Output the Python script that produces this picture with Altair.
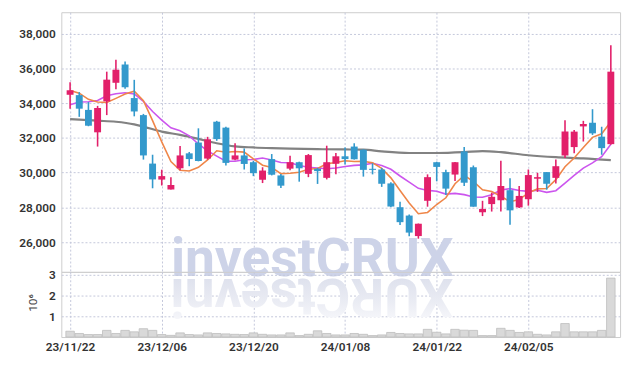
import altair as alt
import pandas as pd

# ---------------- data ----------------
dates = [
    "23/11/22", "23/11/23", "23/11/24", "23/11/27", "23/11/28", "23/11/29", "23/11/30", "23/12/01", "23/12/04", "23/12/05",
    "23/12/06", "23/12/07", "23/12/08", "23/12/11", "23/12/12", "23/12/13", "23/12/14", "23/12/15", "23/12/18", "23/12/19",
    "23/12/20", "23/12/21", "23/12/22", "23/12/26", "23/12/27", "23/12/28", "24/01/02", "24/01/03", "24/01/04", "24/01/05",
    "24/01/08", "24/01/09", "24/01/10", "24/01/11", "24/01/12", "24/01/15", "24/01/16", "24/01/17", "24/01/18", "24/01/19",
    "24/01/22", "24/01/23", "24/01/24", "24/01/25", "24/01/26", "24/01/29", "24/01/30", "24/01/31", "24/02/01", "24/02/02",
    "24/02/05", "24/02/06", "24/02/07", "24/02/08", "24/02/13", "24/02/14", "24/02/15", "24/02/16", "24/02/19", "24/02/20",
]
opens = [34480, 34460, 33610, 32320, 34100, 35170, 36220, 34290, 33310, 30520,
         29600, 29030, 30250, 31110, 31730, 30810, 32930, 32590, 30750, 30990,
         30600, 29590, 30780, 29840, 30230, 30600, 29930, 30220, 29700, 30510,
         30940, 31500, 31320, 30220, 30180, 29380, 28010, 27530, 26350, 28380,
         30600, 30030, 29890, 31220, 30310, 27720, 28190, 28410, 28990, 28000,
         28470, 29650, 30030, 29700, 30990, 31470, 32660, 32870, 32070, 31640]
highs = [35200, 34630, 34060, 33840, 35810, 36500, 36390, 35340, 33380, 31030,
         30170, 29740, 31530, 31190, 32550, 32060, 32980, 32640, 31690, 31390,
         30680, 30310, 31070, 29920, 30970, 30630, 31070, 30270, 31550, 31130,
         31450, 31690, 31340, 30540, 30270, 29440, 28320, 27590, 27070, 29900,
         30630, 30170, 30610, 31470, 30410, 28380, 28850, 30690, 29670, 29230,
         30180, 29990, 30030, 30750, 33020, 32450, 32980, 33650, 32640, 37330]
lows = [33670, 33210, 32670, 31500, 33310, 34800, 34820, 33240, 30750, 29100,
        29260, 29030, 30140, 30370, 30650, 30750, 31830, 30410, 30710, 30180,
        29800, 29400, 29840, 29120, 30140, 29480, 29740, 29350, 29610, 29900,
        30470, 30750, 29770, 29900, 29180, 28010, 26990, 26340, 26200, 28040,
        29500, 28720, 29520, 29230, 28040, 27500, 27760, 27760, 27000, 27970,
        28100, 28890, 29020, 29380, 30840, 31110, 31790, 32170, 31030, 31600]
closes = [34740, 33680, 32700, 33720, 35350, 35920, 34920, 33520, 30990, 29610,
          29800, 29290, 30990, 30780, 30670, 31920, 31930, 30560, 30990, 30500,
          29970, 30120, 29880, 29250, 30600, 30250, 31010, 30090, 30600, 30940,
          30780, 30770, 30160, 30160, 29360, 28050, 27150, 26550, 27060, 29740,
          30330, 29080, 30600, 29420, 28040, 27910, 28610, 29230, 27830, 28660,
          29860, 29740, 29360, 30370, 32360, 32360, 32800, 32260, 31410, 35810]
# volume in millions of shares (axis unit 10^6)
volumes = [0.28, 0.17, 0.12, 0.12, 0.32, 0.17, 0.32, 0.25, 0.40, 0.32,
           0.12, 0.08, 0.20, 0.12, 0.10, 0.20, 0.17, 0.15, 0.13, 0.12,
           0.20, 0.13, 0.10, 0.10, 0.20, 0.07, 0.13, 0.30, 0.17, 0.10,
           0.10, 0.17, 0.13, 0.07, 0.10, 0.22, 0.17, 0.15, 0.15, 0.37,
           0.23, 0.15, 0.37, 0.33, 0.32, 0.07, 0.07, 0.42, 0.32, 0.22,
           0.25, 0.13, 0.10, 0.25, 0.65, 0.25, 0.25, 0.25, 0.32, 2.84]
ma5 = [34730, 34570, 34220, 34060, 34038, 34274, 34522, 34686, 34140, 32992,
       31768, 30642, 30136, 30094, 30306, 30730, 31258, 31172, 31214, 31180,
       30790, 30428, 30292, 29944, 29964, 30020, 30198, 30240, 30510, 30578,
       30684, 30636, 30650, 30562, 30246, 29700, 28976, 28254, 27634, 27710,
       28166, 28552, 29362, 29834, 29494, 29010, 28916, 28642, 28324, 28448,
       28838, 29064, 29090, 29598, 30338, 30838, 31450, 32030, 32238, 32928]
ma10 = [33900, 34060, 34080, 34150, 34420, 34540, 34600, 34530, 34100, 33515,
        33021, 32582, 32411, 32117, 31649, 31249, 30950, 30654, 30654, 30743,
        30760, 30843, 30732, 30579, 30572, 30405, 30313, 30266, 30227, 30271,
        30352, 30417, 30445, 30536, 30412, 30192, 29806, 29452, 29098, 28978,
        28933, 28764, 28808, 28734, 28602, 28588, 28734, 29002, 29079, 28971,
        28924, 28990, 28866, 28961, 29393, 29838, 30257, 30560, 30918, 31633]
ma60_idx = [0, 3, 5, 7, 8, 10, 12, 14, 16, 18, 20, 22, 24, 27, 30, 32, 34, 37,
            40, 43, 45, 47, 50, 53, 56, 59]
ma60 = [33080, 32990, 32930, 32780, 32650, 32360, 32170, 31940, 31690, 31510,
        31450, 31410, 31380, 31350, 31335, 31320, 31220, 31130, 31130, 31180,
        31240, 31180, 31000, 30890, 30820, 30720]
tick_idx = [0, 10, 20, 30, 40, 50]
price_ticks = [26000, 28000, 30000, 32000, 34000, 36000, 38000]
vol_ticks = [1, 2, 3]
watermark = "investCRUX"

# ---------------- styling ----------------
UP = "#e2206a"
DOWN = "#3399cc"
ORANGE = "#ef8649"
PURPLE = "#cc55ee"
GRAY = "#828282"
GRID = "#c3c7da"
FONT = "Roboto"
W, H_PRICE, H_VOL = 566, 263, 66

df = pd.DataFrame({
    "i": list(range(len(dates))), "date": dates, "open": opens, "high": highs,
    "low": lows, "close": closes, "vol": volumes, "ma5": ma5, "ma10": ma10,
})
df["dir"] = ["up" if c >= o else "down" for o, c in zip(opens, closes)]
gdf = pd.DataFrame({"i": ma60_idx, "ma60": ma60})

xscale = alt.Scale(domain=[-0.42, 59.47], nice=False, zero=False)
label_arr = "[" + ",".join(f"'{dates[k]}'" for k in tick_idx) + "]"

def x_price():
    return alt.X("i:Q", scale=xscale, title=None,
                 axis=alt.Axis(values=tick_idx, labels=False, ticks=False, domain=False,
                               grid=True, gridDash=[2, 2], gridColor=GRID, maxExtent=0, minExtent=0))

pscale = alt.Scale(domain=[24290, 39230], nice=False, zero=False)

def y_price(field):
    return alt.Y(field, scale=pscale, title=None,
                 axis=alt.Axis(values=price_ticks, format=",d", ticks=False, domain=False,
                               labelPadding=6, grid=True, gridDash=[2, 2], gridColor=GRID,
                               minExtent=48, maxExtent=48))

color = alt.Color("dir:N", scale=alt.Scale(domain=["up", "down"], range=[UP, DOWN]), legend=None)

base = alt.Chart(df)

wm = alt.Chart(pd.DataFrame({"t": [watermark]})).mark_text(
    font=FONT, fontSize=54, fontWeight="bold", color="#cdd3e8", align="left", baseline="alphabetic"
).encode(text="t:N", x=alt.value(111), y=alt.value(267))

gray_line = alt.Chart(gdf).mark_line(color=GRAY, strokeWidth=2.2, interpolate="monotone").encode(
    x=x_price(), y=y_price("ma60:Q"))
purple_line = base.mark_line(color=PURPLE, strokeWidth=1.6).encode(x=x_price(), y=y_price("ma10:Q"))
orange_line = base.mark_line(color=ORANGE, strokeWidth=1.6).encode(x=x_price(), y=y_price("ma5:Q"))
wicks = base.mark_rule(strokeWidth=1.6).encode(
    x=x_price(), y=y_price("low:Q"), y2="high:Q", color=color)
bodies = base.mark_bar(size=7).encode(
    x=x_price(), y=y_price("open:Q"), y2="close:Q", color=color)

price = alt.layer(wm, gray_line, purple_line, orange_line, wicks, bodies).properties(
    width=W, height=H_PRICE)

fade = alt.LinearGradient(
    gradient="linear",
    stops=[alt.GradientStop(color="#fbfbfd", offset=0),
           alt.GradientStop(color="#e9ebf3", offset=0.45),
           alt.GradientStop(color="#d8dcea", offset=1)],
    x1=0, x2=0, y1=0, y2=1,
)
refl = alt.Chart(pd.DataFrame({"t": [watermark[::-1]]})).mark_text(
    font=FONT, fontSize=54, fontWeight="bold", color=fade,
    align="left", baseline="alphabetic", angle=180
).encode(text="t:N", x=alt.value(397), y=alt.value(7))

vol_bars = base.mark_bar(size=8.6, color="#d9d9d9", stroke="#bdbdbd", strokeWidth=0.8).encode(
    x=alt.X("i:Q", scale=xscale, title=None,
            axis=alt.Axis(values=tick_idx, labelExpr=f"{label_arr}[round(datum.value/10)]",
                          ticks=False, domain=False, labelPadding=5, grid=True,
                          gridDash=[2, 2], gridColor=GRID)),
    y=alt.Y("vol:Q", scale=alt.Scale(domain=[0, 3.14], nice=False),
            axis=alt.Axis(values=vol_ticks, format="d", ticks=False, domain=False,
                          labelPadding=6, grid=True, gridDash=[2, 2], gridColor=GRID,
                          title="10⁶", titleFont=FONT, titleFontSize=12, titleFontWeight="normal",
                          titleColor="#444", titleX=-29, titleY=31, titleBaseline="middle",
                          minExtent=48, maxExtent=48)),
)

volume = alt.layer(refl, vol_bars).properties(width=W, height=H_VOL)

chart = alt.vconcat(price, volume, spacing=0, bounds="flush").properties(
    padding={"left": 5, "top": 1, "right": 5, "bottom": 5}
).configure_view(stroke="#cdcdcd").configure_axis(
    labelFont=FONT, labelFontSize=12, labelColor="#333333", labelFontWeight=600
).configure_concat(spacing=0)

chart.save("out.html", embed_options={"renderer": "svg", "actions": False})
